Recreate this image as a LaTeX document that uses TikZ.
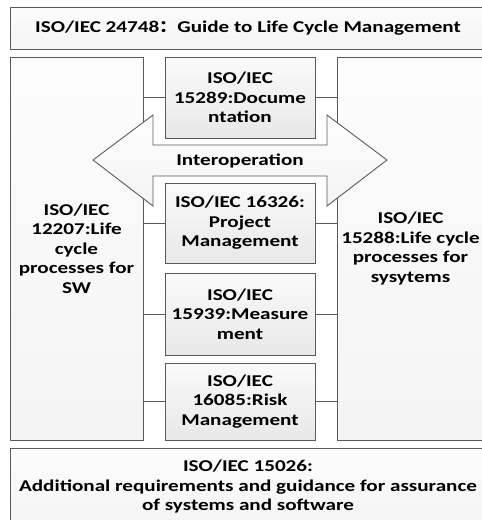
\documentclass[tikz,border=0pt]{standalone}
\usepackage{fontspec}
\setmainfont{Carlito}[FakeStretch=1.28]
\newfontfamily\cjk{Noto Sans CJK SC}[FakeStretch=1.1]
\usetikzlibrary{shadows}
\definecolor{edge}{HTML}{5A5A5A}
\tikzset{
  base/.style={draw=edge, line width=0.9pt, inner sep=0pt, outer sep=0pt, align=center,
    font=\bfseries\fontsize{16.5}{19.5}\selectfont},
  bigbox/.style={base, top color=gray!2, bottom color=gray!9},
  midbox/.style={base, minimum width=150pt, top color=gray!4, bottom color=gray!18,
    drop shadow={shadow xshift=1.2pt, shadow yshift=-1.2pt, fill=gray!70, opacity=0.6}},
  link/.style={draw=edge, line width=0.9pt},
  arrowshape/.style={draw=edge, line width=0.9pt, top color=white, bottom color=gray!10}
}
\begin{document}
\begin{tikzpicture}[x=1pt,y=-1pt]
\clip (0,0) rectangle (482,520);
\fill[white] (0,0) rectangle (482,520);
% top and bottom boxes
\node[bigbox, minimum width=476pt, minimum height=42pt] (T) at (248,28)
  {ISO/IEC 24748{\cjk ：}Guide to Life Cycle Management};
\node[bigbox, minimum width=476pt, minimum height=78pt] (B) at (248,487)
  {ISO/IEC 15026:\\Additional requirements and guidance for assurance\\of systems and software};
% side boxes
\node[bigbox, minimum width=133pt, minimum height=383pt] (L) at (76.5,248.5)
  {ISO/IEC\\12207:Life\\cycle\\processes for\\SW};
\node[bigbox, minimum width=147pt, minimum height=383pt] (R) at (410.5,248.5)
  {ISO/IEC\\15288:Life cycle\\processes for\\sysytems};
% interoperation double arrow
\path[arrowshape] (93,160) -- (153,115) -- (153,145) -- (327,145) -- (327,115)
  -- (387,160) -- (327,206) -- (327,176) -- (153,176) -- (153,206) -- cycle;
\node[base, draw=none] (io) at (240,160.5) {Interoperation};
% middle boxes
\node[midbox, minimum height=81pt] (D) at (240,97.5) {ISO/IEC\\15289:Docume\\ntation};
\node[midbox, minimum height=80pt] (P) at (240,223) {ISO/IEC 16326:\\Project\\Management};
\node[midbox, minimum height=82pt] (M) at (240,314) {ISO/IEC\\15939:Measure\\ment};
\node[midbox, minimum height=77pt] (K) at (240,401.5) {ISO/IEC\\16085:Risk\\Management};
% connectors
\foreach \n in {D,P,M,K}{
  \draw[link] (\n.west) -- (\n.west -| L.east);
  \draw[link] (\n.east) -- (\n.east -| R.west);
}
\end{tikzpicture}
\end{document}
